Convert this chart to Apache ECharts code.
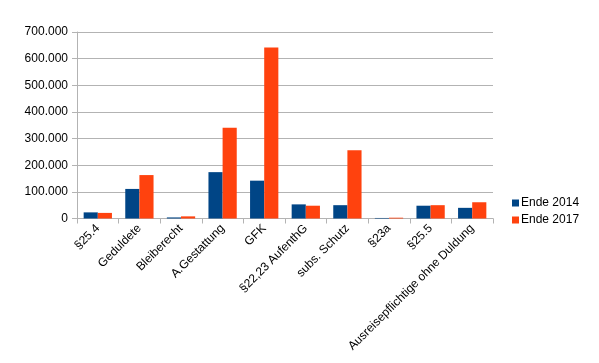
<!DOCTYPE html>
<html><head><meta charset="utf-8">
<script src="https://cdn.jsdelivr.net/npm/echarts@6/dist/echarts.min.js"></script>
<style>html,body{margin:0;padding:0;background:#fff}#c{width:599px;height:363px}</style>
</head><body><div id="c"></div>
<script>
const categories = ['§25.4','Geduldete','Bleiberecht','A.Gestattung','GFK','§22,23 AufenthG','subs. Schutz','§23a','§25.5','Ausreisepflichtige ohne Duldung'];
const ende2014 = [23000,111000,4000,174000,142000,53000,50000,2000,48000,40000];
const ende2017 = [21000,163000,8000,341000,642000,48000,256000,3000,50000,61000];
const yTicks = {min:0,max:700000,interval:100000};

const chart = echarts.init(document.getElementById('c'));
const font = 'Liberation Sans';
chart.setOption({
  animation:false,
  textStyle:{fontFamily:font},
  grid:{left:77,right:106,top:32,bottom:144.5},
  legend:{orient:'vertical',left:507,top:192,itemWidth:7,itemHeight:7,itemGap:5,icon:'rect',
    textStyle:{fontFamily:font,fontSize:12,color:'#000',padding:[0,0,0,-3]},
    data:['Ende 2014','Ende 2017']},
  xAxis:{type:'category',data:categories,
    axisLine:{lineStyle:{color:'#b3b3b3'}},
    axisTick:{show:true,length:5,lineStyle:{color:'#b3b3b3'}},
    axisLabel:{rotate:45,interval:0,fontFamily:font,fontSize:12,color:'#000',margin:8}},
  yAxis:{type:'value',min:yTicks.min,max:yTicks.max,interval:yTicks.interval,
    axisLine:{show:true,lineStyle:{color:'#b3b3b3'}},
    axisTick:{show:true,length:5,lineStyle:{color:'#b3b3b3'}},
    splitLine:{lineStyle:{color:'#b3b3b3'}},
    axisLabel:{fontFamily:font,fontSize:12,color:'#000',margin:9,
      formatter:v=>v.toString().replace(/\B(?=(\d{3})+(?!\d))/g,'.')}},
  series:[
    {name:'Ende 2014',type:'bar',data:ende2014,itemStyle:{color:'#004586'},barGap:'0%',barCategoryGap:'32%'},
    {name:'Ende 2017',type:'bar',data:ende2017,itemStyle:{color:'#ff420e'},barGap:'0%',barCategoryGap:'32%'}
  ]
});
</script></body></html>
